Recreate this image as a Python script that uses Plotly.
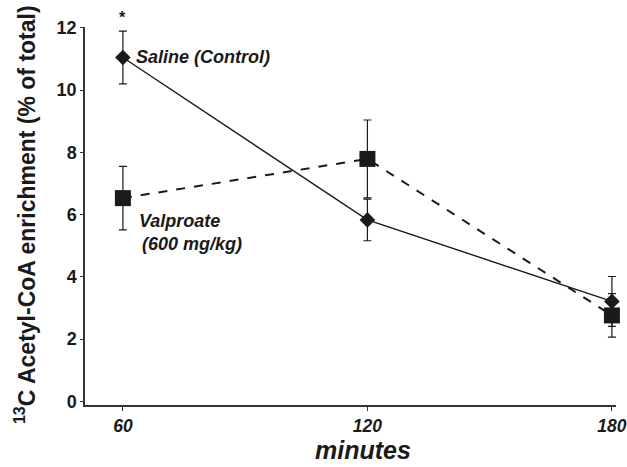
import plotly.graph_objects as go

minutes = [60, 120, 180]
saline = [11.05, 5.83, 3.21]
saline_err = [0.85, 0.67, 0.80]
valproate = [6.53, 7.79, 2.76]
valproate_err = [1.02, 1.25, 0.70]
x_ticks = [60, 120, 180]
y_ticks = [0, 2, 4, 6, 8, 10, 12]

FONT = "Liberation Sans, Arial, sans-serif"
INK = "#1a1a1a"

fig = go.Figure()
fig.add_trace(go.Scatter(
    x=minutes, y=valproate, mode="lines+markers", name="Valproate",
    line=dict(color=INK, width=2, dash="dash"),
    marker=dict(symbol="square", size=16, color=INK),
    error_y=dict(type="data", array=valproate_err, color=INK, thickness=1.2, width=4),
    cliponaxis=False,
))
fig.add_trace(go.Scatter(
    x=minutes, y=saline, mode="lines+markers", name="Saline",
    line=dict(color=INK, width=1.4),
    marker=dict(symbol="diamond", size=12, color=INK),
    error_y=dict(type="data", array=saline_err, color=INK, thickness=1.2, width=4),
    cliponaxis=False,
))

annos = [
    dict(x=62.7, y=11.05, text="<b><i>Saline (Control)</i></b>"),
    dict(x=63.4, y=5.81, text="<b><i>Valproate</i></b>"),
    dict(x=64.3, y=5.07, text="<b><i>(600 mg/kg)</i></b>"),
]
for a in annos:
    fig.add_annotation(showarrow=False, xref="x", yref="y", xanchor="left", yanchor="middle",
                       font=dict(family=FONT, size=18, color=INK), **a)

fig.add_annotation(x=60, y=1, xref="x", yref="paper", yshift=-1, text="<b>*</b>",
                   showarrow=False, xanchor="center", yanchor="bottom",
                   font=dict(family=FONT, size=16, color=INK))

fig.add_annotation(
    xref="paper", yref="paper", x=-0.113, y=0.505, showarrow=False,
    text="<b><sup>13</sup>C Acetyl-CoA enrichment (% of total)</b>",
    textangle=-90, xanchor="center", yanchor="middle",
    font=dict(family=FONT, size=23, color=INK),
)

fig.add_annotation(
    xref="paper", yref="paper", x=0.5235, y=-0.118, showarrow=False,
    text="<b><i>minutes</i></b>", xanchor="center", yanchor="middle",
    font=dict(family=FONT, size=25, color=INK),
)

fig.update_layout(
    width=627, height=467,
    margin=dict(l=85, r=11, t=27, b=62),
    paper_bgcolor="white", plot_bgcolor="white",
    showlegend=False,
    font=dict(family=FONT, color=INK),
    xaxis=dict(
        range=[50.7, 181], tickvals=x_ticks,
        ticktext=[f"<b><i>{v}</i></b>" for v in x_ticks],
        showline=True, linecolor="#333", linewidth=1.5,
        ticks="outside", ticklen=4, tickcolor="#333",
        showgrid=False, zeroline=False, automargin=False,
        tickfont=dict(size=17.5, family=FONT, color=INK),
    ),
    yaxis=dict(
        range=[-0.12, 12.03], tickvals=y_ticks,
        ticktext=[f"<b>{v}</b>" for v in y_ticks],
        showline=True, linecolor="#333", linewidth=1.5,
        ticks="outside", ticklen=3, tickcolor="#333",
        showgrid=False, zeroline=False, automargin=False,
        tickfont=dict(size=18, family=FONT, color=INK),
    ),
)

fig.write_html("out.html", config={"displayModeBar": False},
               post_script="document.body.style.margin='0';")
